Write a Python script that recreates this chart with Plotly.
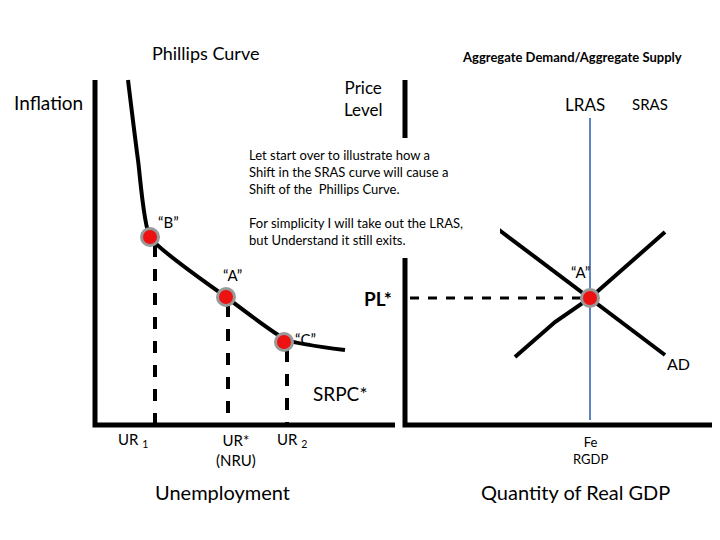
import plotly.graph_objects as go

# Diagram coordinates (slide units, y downward)
pc_x = [128, 138, 150, 226, 287, 345]
pc_y = [80, 160, 237, 297, 340, 350]
pts_x = [150, 226, 284]
pts_y = [237, 297, 342]
pts_lbl = ["“B”", "“A”", "“C”"]
dash_x = [155, 228, 287]
dash_top = [245, 305, 350]
sras_x = [515, 555, 590, 665]
sras_y = [357, 322, 298, 232]
ad_x = [470, 590, 665]
ad_y = [208, 298, 355]
pl_y = 298
lras_x = 590

fig = go.Figure()
K = "black"
def line(xs, ys, w=5, c=K, dash=None):
    fig.add_trace(go.Scatter(x=xs, y=ys, mode="lines", line=dict(color=c, width=w, dash=dash), hoverinfo="skip"))

line([95, 95, 395], [80, 425, 425])
line([405, 405, 715], [80, 425, 425])
fig.add_trace(go.Scatter(x=pc_x, y=pc_y, mode="lines", line=dict(color=K, width=4, shape="spline", smoothing=0.5), hoverinfo="skip"))
for x, t in zip(dash_x, dash_top):
    line([x, x], [t, 425], w=4, dash="dash")
line(sras_x, sras_y, w=4)
line(ad_x, ad_y, w=4)
line([lras_x, lras_x], [118, 420], w=2, c="#5b84c4")
line([410, lras_x], [pl_y, pl_y], w=3, dash="dash")
fig.add_trace(go.Scatter(x=pts_x + [lras_x], y=pts_y + [pl_y], mode="markers",
                         marker=dict(size=17, color="#ee1111", line=dict(color="#999", width=3)), hoverinfo="skip"))

F = "Lato"
def txt(x, y, s, size=14, bold=False, xa="center"):
    fig.add_annotation(x=x, y=y, text=("<b>%s</b>" % s) if bold else s, showarrow=False,
                       font=dict(family=F, size=size, color=K), xanchor=xa)

txt(205, 53, "Phillips Curve", 18)
txt(572, 57, "Aggregate Demand/Aggregate Supply", 13, True)
txt(48, 102, "Inflation", 19)
txt(363, 98, "Price<br>Level", 17)
txt(585, 104, "LRAS", 17)
txt(650, 104, "SRAS", 15)
txt(168, 222, pts_lbl[0], 15)
txt(232, 275, pts_lbl[1], 15)
txt(305, 339, pts_lbl[2], 15)
txt(580, 272, "“A”", 15)
txt(378, 298, "PL*", 19, True)
txt(678, 363, "AD", 16)
txt(340, 393, "SRPC*", 19)
txt(133, 440, "UR <sub>1</sub>", 15)
txt(236, 450, "UR*<br>(NRU)", 15)
txt(292, 440, "UR <sub>2</sub>", 15)
txt(590, 450, "Fe<br>RGDP", 13)
txt(222, 492, "Unemployment", 20)
txt(575, 492, "Quantity of Real GDP", 20)

fig.add_shape(type="rect", x0=240, x1=500, y0=138, y1=258, fillcolor="white", line=dict(width=0), layer="above")
fig.add_annotation(x=247, y=145, xanchor="left", yanchor="top", showarrow=False, align="left",
                   text="Let start over to illustrate how a<br>Shift in the SRAS curve will cause a<br>Shift of the  Phillips Curve.<br><br>For simplicity I will take out the LRAS,<br>but Understand it still exits.",
                   font=dict(family=F, size=13, color=K))

fig.update_layout(width=720, height=540, margin=dict(l=0, r=0, t=0, b=0), showlegend=False,
                  plot_bgcolor="white", paper_bgcolor="white",
                  xaxis=dict(range=[8, 728], visible=False),
                  yaxis=dict(range=[548, 8], visible=False))
fig.write_html("out.html")
